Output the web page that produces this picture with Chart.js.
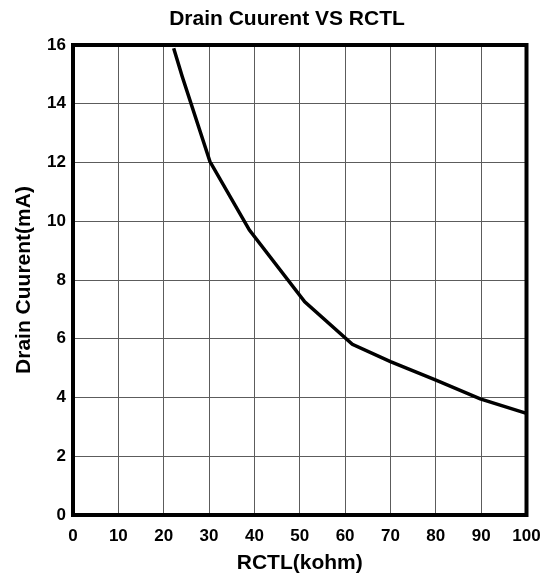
<!DOCTYPE html>
<html>
<head>
<meta charset="utf-8">
<script src="https://cdn.jsdelivr.net/npm/chart.js@4.4.1/dist/chart.umd.min.js"></script>
<style>
  html, body { margin: 0; padding: 0; background: #fff; }
  #wrap { width: 547px; height: 579px; }
</style>
</head>
<body>
<div id="wrap"><canvas id="drainChart"></canvas></div>
<script>
// values
const rctl = [22.2, 24.1, 30.2, 38.9, 51.1, 61.6, 70.0, 79.9, 89.8, 100];
const drainCurrent = [15.89, 14.92, 12.03, 9.7, 7.26, 5.81, 5.22, 4.6, 3.95, 3.46];

const xTicks = [0, 10, 20, 30, 40, 50, 60, 70, 80, 90, 100];
const yTicks = [0, 2, 4, 6, 8, 10, 12, 14, 16];

const fontFamily = '"Liberation Sans", Arial, Helvetica, sans-serif';

// thick frame round the plot area
const frame = {
    id: 'frame',
    afterDraw(chart) {
        const a = chart.chartArea;
        const c = chart.ctx;
        c.save();
        c.strokeStyle = '#000';
        c.lineWidth = 4;
        c.strokeRect(a.left, a.top, a.right - a.left, a.bottom - a.top);
        c.restore();
    }
};

const ctx = document.getElementById('drainChart').getContext('2d');
const chart = new Chart(ctx, {
    type: 'line',
    data: {
        datasets: [{
            data: rctl.map((x, i) => ({ x: x, y: drainCurrent[i] })),
            borderColor: '#000',
            borderWidth: 3.5,
            pointRadius: 0,
            tension: 0,
            fill: false
        }]
    },
    options: {
        responsive: true,
        maintainAspectRatio: false,
        animation: false,
        // left padding pushes the centred title over to where the reference has it
        layout: { padding: { left: 27, right: 0 } },
        plugins: {
            legend: { display: false },
            tooltip: { enabled: false },
            title: {
                display: true,
                text: 'Drain Cuurent VS RCTL',
                color: '#000',
                font: { family: fontFamily, size: 21, weight: 'bold' },
                padding: { top: 7, bottom: 12.8 }
            }
        },
        scales: {
            x: {
                type: 'linear',
                min: 0,
                max: 100,
                afterBuildTicks: s => { s.ticks = xTicks.map(v => ({ value: v })); },
                afterFit: s => {
                    s.height = 64;
                    s.paddingLeft = 0;
                    s.paddingRight = 0;
                },
                grid: { color: '#5c5c5c', lineWidth: 1, drawTicks: false },
                border: { display: false },
                ticks: {
                    color: '#000',
                    padding: 11,
                    font: { family: fontFamily, size: 17, weight: 'bold' }
                },
                title: {
                    display: true,
                    text: 'RCTL(kohm)',
                    color: '#000',
                    font: { family: fontFamily, size: 21, weight: 'bold' },
                    padding: { top: 0, bottom: 3 }
                }
            },
            y: {
                type: 'linear',
                min: 0,
                max: 16,
                afterBuildTicks: s => { s.ticks = yTicks.map(v => ({ value: v })); },
                afterFit: s => { s.width = 46; },
                grid: { color: '#5c5c5c', lineWidth: 1, drawTicks: false },
                border: { display: false },
                ticks: {
                    color: '#000',
                    padding: 7,
                    font: { family: fontFamily, size: 17, weight: 'bold' }
                },
                title: {
                    display: true,
                    text: 'Drain Cuurent(mA)',
                    color: '#000',
                    font: { family: fontFamily, size: 21, weight: 'bold' },
                    padding: { top: -15, bottom: 0 }
                }
            },
            // empty right-hand strip, keeps the plot clear of the canvas edge
            yRight: {
                type: 'linear',
                position: 'right',
                min: 0,
                max: 16,
                afterFit: s => { s.width = 20.5; },
                grid: { display: false, drawTicks: false },
                border: { display: false },
                ticks: { display: false }
            }
        }
    },
    plugins: [frame]
});
</script>
</body>
</html>
